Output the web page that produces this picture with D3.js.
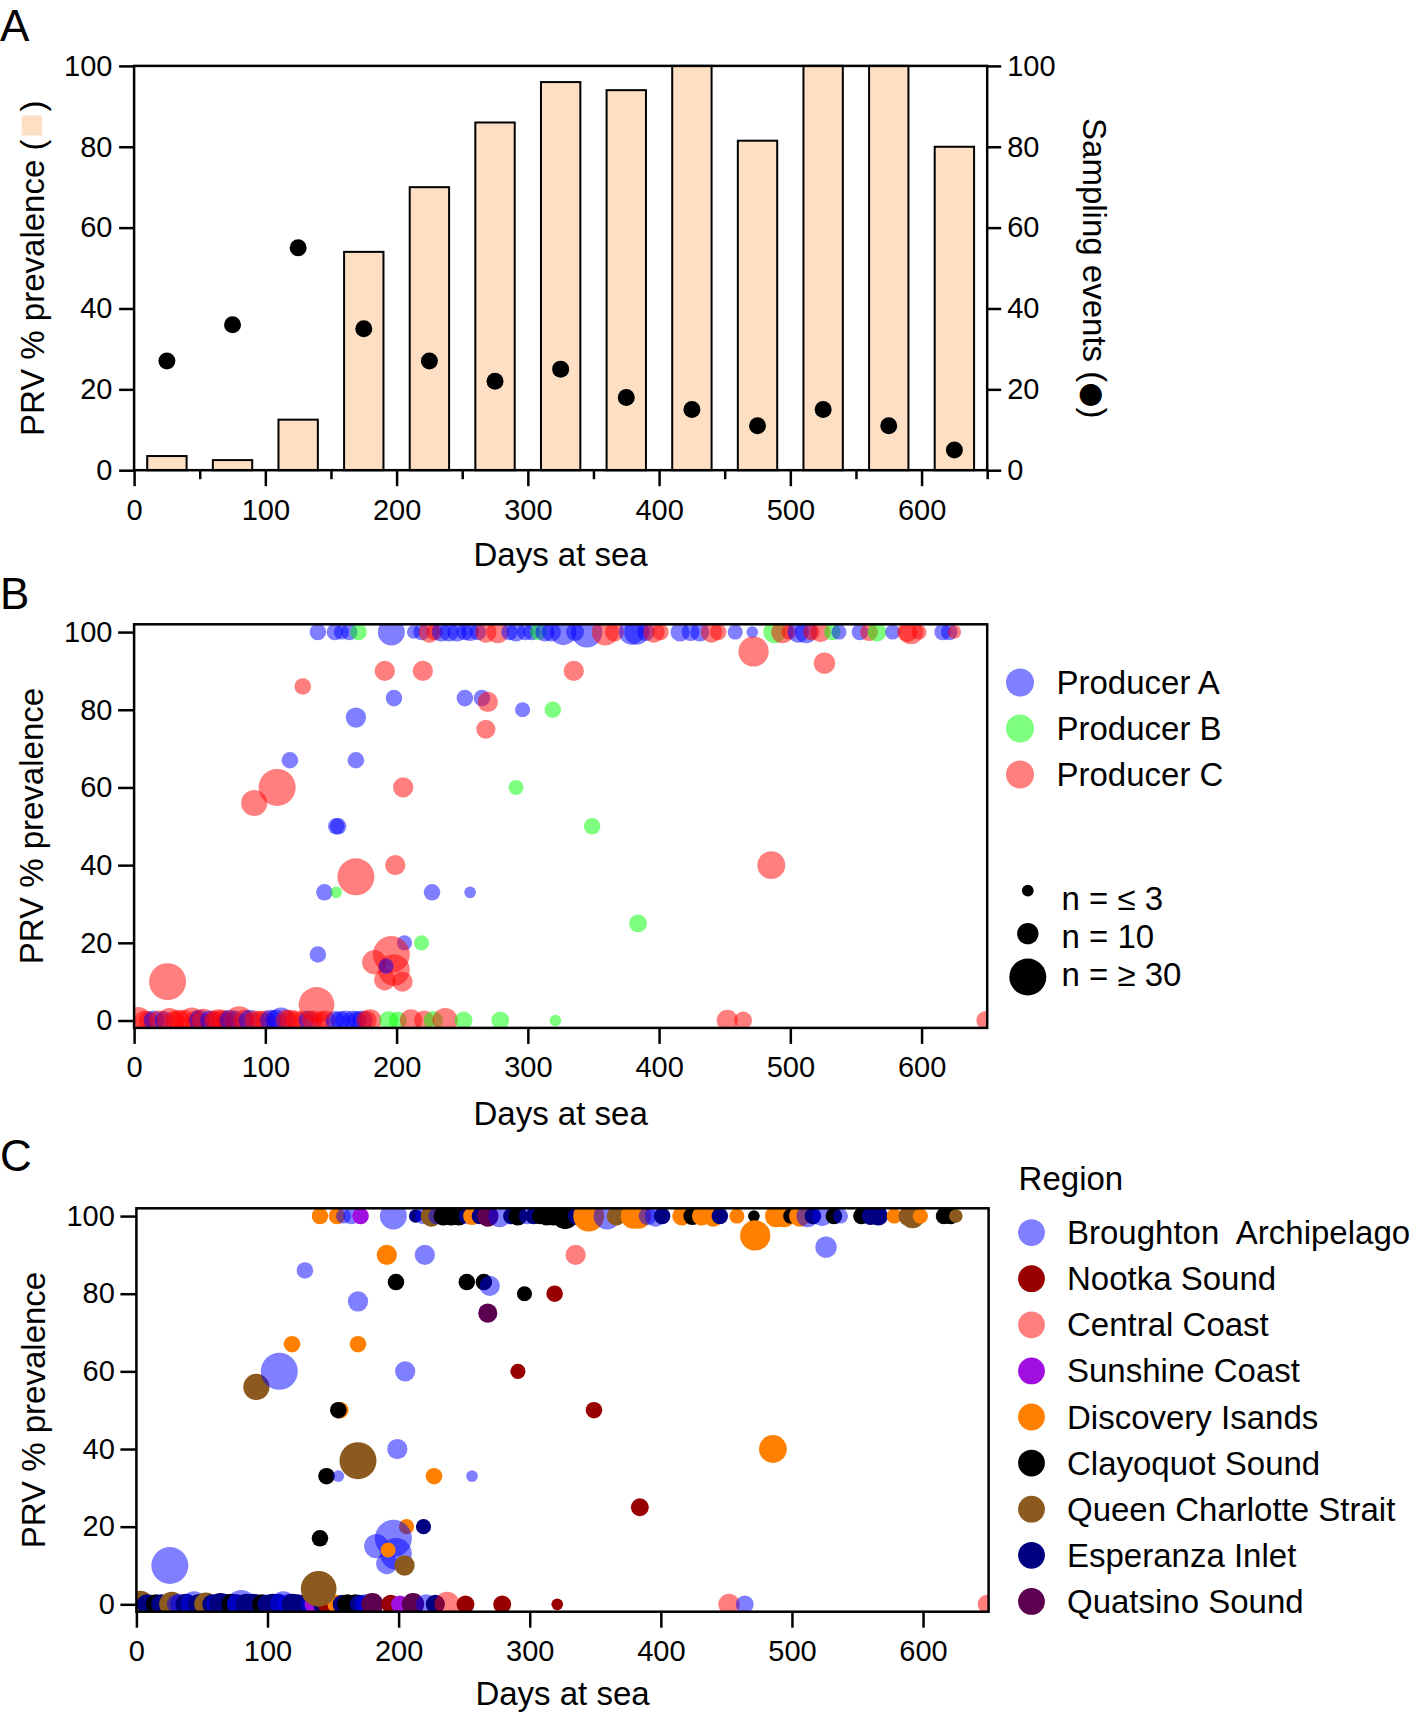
<!DOCTYPE html>
<html><head><meta charset="utf-8">
<script src="https://cdn.jsdelivr.net/npm/d3@7"></script>
<style>
body{margin:0;background:#fff;}
svg text{font-family:"Liberation Sans",Arial,Helvetica,sans-serif;fill:#000;}
</style></head><body>
<svg id="chart" width="1424" height="1716"></svg>
<script>
// ---------------- DATA ----------------
// Panel A: bins of days at sea (bin centres), PRV prevalence (%) and sampling events
const binCentres = [25, 75, 125, 175, 225, 275, 325, 375, 425, 475, 525, 575, 625];
const prevalenceBars = [3.5, 2.5, 12.5, 54, 70, 86, 96, 94, 100, 81.5, 100, 100, 80];
const samplingEvents = [27, 36, 55, 35, 27, 22, 25, 18, 15, 11, 15, 11, 5];
const yTicksA = [0, 20, 40, 60, 80, 100];
const xTicksMajor = [0, 100, 200, 300, 400, 500, 600];
const xTicksMinor = [50, 150, 250, 350, 450, 550, 650];

// Panels B & C: sampling events [day, n, producer, region]
const producers = ["A", "B", "C"];
const producerLabels = ["Producer A", "Producer B", "Producer C"];
const regions = ["BA", "NS", "CC", "SC", "DI", "CS", "QCS", "EI", "QS"];
const regionLabels = ["Broughton  Archipelago", "Nootka Sound", "Central Coast", "Sunshine Coast",
  "Discovery Isands", "Clayoquot Sound", "Queen Charlotte Strait", "Esperanza Inlet", "Quatsino Sound"];
const sizeLegendN = [3, 10, 30];
const sizeLegendLabels = ["n = \u2264 3", "n = 10", "n = \u2265 30"];

// events with 0 % prevalence
const zeroEvents = [
  [3,16,"C","QCS"],[8,9,"C","EI"],[11,8,"C","EI"],[15,9,"A","CS"],[19,9,"C","EI"],[23,8,"A","EI"],
  [27,14,"C","QCS"],[31,9,"C","BA"],[34,10,"C","BA"],[38,10,"C","EI"],[44,15,"C","BA"],[47,9,"C","EI"],
  [50,10,"A","EI"],[53,12,"C","QCS"],[58,9,"A","EI"],[61,9,"C","BA"],[64,11,"C","EI"],[67,10,"C","EI"],
  [70,9,"C","EI"],[73,10,"A","CS"],[77,9,"A","EI"],[80,18,"C","BA"],[84,10,"C","EI"],[88,10,"A","EI"],
  [92,9,"C","EI"],[96,9,"C","CS"],[100,9,"C","BA"],[104,10,"A","EI"],[108,10,"A","EI"],[112,15,"A","BA"],
  [116,10,"C","BA"],[119,10,"C","EI"],[123,9,"C","EI"],[129,9,"C","EI"],[133,9,"A","BA"],[136,9,"C","SC"],
  [142,8,"C","EI"],[146,9,"C","NS"],[153,8,"A","DI"],[157,8,"A","EI"],[161,9,"A","CS"],[167,9,"A","CS"],
  [170,8,"A","EI"],[174,9,"A","BA"],[177,9,"C","BA"],[180,11,"C","QS"],[194,8,"B","NS"],[201,7,"B","SC"],
  [211,11,"C","QS"],[221,9,"C","BA"],[228,8,"B","EI"],[237,14,"C","CC"],[251,7,"B","NS"],
  [279,7,"B","NS"],[321,3,"B","NS"],[452,10,"C","CC"],[464,7,"C","BA"],[649,8,"C","CC"]
];
// events with 100 % prevalence
const fullEvents = [
  [140,6,"A","DI"],[153,6,"A","DI"],[158,5,"A","BA"],[164,6,"A","BA"],[171,6,"B","SC"],
  [196,16,"A","BA"],[213,4,"A","EI"],[219,6,"A","BA"],[225,10,"C","QCS"],[229,6,"C","BA"],
  [234,8,"A","CS"],[240,8,"A","CS"],[246,8,"A","CS"],[252,6,"A","BA"],[256,7,"A","DI"],
  [262,6,"A","EI"],[268,10,"C","QS"],[277,11,"C","BA"],[286,6,"A","EI"],[291,8,"A","CS"],
  [298,6,"A","BA"],[303,6,"A","EI"],[308,6,"B","CS"],[313,8,"A","CS"],[318,8,"A","CS"],
  [327,15,"A","CS"],[336,7,"A","EI"],[345,21,"A","DI"],[359,16,"C","BA"],[366,8,"C","QCS"],
  [379,14,"A","DI"],[383,14,"A","DI"],[390,7,"A","BA"],[396,10,"C","BA"],[401,6,"C","EI"],
  [416,8,"A","DI"],[424,7,"A","CS"],[431,8,"A","DI"],[440,10,"C","DI"],[445,6,"C","EI"],
  [458,5,"A","DI"],[471,3,"A","CS"],[488,11,"B","DI"],[494,11,"C","DI"],[499,5,"C","CS"],
  [506,10,"A","DI"],[512,11,"A","BA"],[516,6,"C","EI"],[523,9,"C","BA"],[532,6,"B","CS"],
  [537,5,"A","BA"],[553,6,"A","CS"],[560,7,"C","EI"],[566,8,"B","EI"],[578,5,"A","DI"],
  [589,9,"C","QCS"],[592,13,"C","QCS"],[598,5,"C","DI"],[616,6,"A","CS"],[621,6,"A","CS"],
  [625,4,"C","QCS"]
];
// events with intermediate prevalence [day, prevalence, n, producer, region]
const midEvents = [
  [25.5,10,30,"C","BA"],[139,4,28,"C","QCS"],[91.5,56,15,"C","QCS"],[109,60,30,"C","BA"],
  [128.5,86,6,"C","BA"],[118.7,67,6,"A","DI"],[169,78,9,"A","BA"],[169,67,6,"A","DI"],
  [155.5,50,6,"A","DI"],[154,50,6,"A","CS"],[191,90,9,"C","DI"],[220,90,9,"C","BA"],
  [198,83,6,"A","CS"],[205,60,9,"C","BA"],[199,40,9,"C","BA"],[169,37,30,"C","QCS"],
  [145,33,6,"A","CS"],[154,33,3,"B","BA"],[227,33,6,"A","DI"],[256,33,3,"A","BA"],
  [140,17,6,"A","CS"],[206,20,5,"A","DI"],[219,20,5,"B","EI"],[196,17,30,"C","BA"],
  [183,15,13,"C","BA"],[191,10.5,10,"C","BA"],[198,13,22,"C","BA"],[204.5,10,9,"C","QCS"],
  [192,14,5,"A","DI"],[252,83,6,"A","CS"],[265,83,6,"A","CS"],[269.5,82,9,"C","BA"],
  [268,75,8,"C","QS"],[296,80,5,"A","CS"],[319,80,6,"B","NS"],[335,90,9,"C","CC"],
  [291,60,5,"B","NS"],[349,50,6,"B","NS"],[384,25,7,"B","NS"],[472,95,20,"C","DI"],
  [526,92,10,"C","BA"],[485.5,40,17,"C","DI"]
];

// ---------------- STYLE ----------------
const FONT = '"Liberation Sans",Arial,Helvetica,sans-serif';
const TICK_FS = 29, TITLE_FS = 33, PANEL_FS = 44;
const BAR_FILL = "#FDE0C3";
const producerColor = {A: "#0000FF", B: "#00FF00", C: "#FF0000"};
const regionColor = {BA: "#0000FF", NS: "#990000", CC: "#FF0000", SC: "#A00FE0", DI: "#FF8000",
  CS: "#000000", QCS: "#8C5A1E", EI: "#000080", QS: "#5C0050"};
const regionOpacity = {BA: 0.5, NS: 1, CC: 0.5, SC: 1, DI: 1, CS: 1, QCS: 1, EI: 1, QS: 1};

const svg = d3.select("#chart");
const rScale = d3.scaleSqrt().domain([0, 30]).range([0, 18.5]).clamp(true);

const events = [
  ...zeroEvents.map(([d, n, p, r]) => ({day: d, prev: 0, n, p, r})),
  ...fullEvents.map(([d, n, p, r]) => ({day: d, prev: 100, n, p, r})),
  ...midEvents.map(([d, v, n, p, r]) => ({day: d, prev: v, n, p, r}))
];

function styleAxis(g, fs) {
  g.select(".domain").remove();
  g.selectAll(".tick line").attr("stroke", "#000").attr("stroke-width", 2.5);
  g.selectAll(".tick text").attr("font-size", fs).attr("font-family", FONT).attr("fill", "#000");
}

function frame(x0, y0, x1, y1) {
  svg.append("rect").attr("x", x0).attr("y", y0).attr("width", x1 - x0).attr("height", y1 - y0)
    .attr("fill", "none").attr("stroke", "#000").attr("stroke-width", 2.5);
}

function panelLabel(txt, x, y) {
  svg.append("text").attr("x", x).attr("y", y).attr("font-size", PANEL_FS).text(txt);
}

// ---------------- PANEL A ----------------
const xA = d3.scaleLinear().domain([0, 650]).range([134.1, 987.2]);
const yA = d3.scaleLinear().domain([0, 100]).range([470.2, 65.9]);
const yA2 = d3.scaleLinear().domain([0, 100]).range([470.2, 65.9]);
const halfBin = 15;

svg.append("g").selectAll("rect").data(binCentres).join("rect")
  .attr("x", d => xA(d - halfBin))
  .attr("width", d => xA(d + halfBin) - xA(d - halfBin))
  .attr("y", (d, i) => yA(prevalenceBars[i]))
  .attr("height", (d, i) => yA(0) - yA(prevalenceBars[i]))
  .attr("fill", BAR_FILL).attr("stroke", "#000").attr("stroke-width", 2);

svg.append("g").selectAll("circle").data(binCentres).join("circle")
  .attr("cx", d => xA(d)).attr("cy", (d, i) => yA2(samplingEvents[i])).attr("r", 8.5).attr("fill", "#000");

frame(134.1, 65.9, 987.2, 470.2);

styleAxis(svg.append("g").attr("transform", "translate(0,470.2)")
  .call(d3.axisBottom(xA).tickValues(xTicksMajor).tickSize(16).tickPadding(13).tickSizeOuter(0)), TICK_FS);
styleAxis(svg.append("g").attr("transform", "translate(0,470.2)")
  .call(d3.axisBottom(xA).tickValues(xTicksMinor).tickSize(9).tickFormat("").tickSizeOuter(0)), TICK_FS);
styleAxis(svg.append("g").attr("transform", "translate(134.1,0)")
  .call(d3.axisLeft(yA).tickValues(yTicksA).tickSize(15).tickPadding(6.6).tickSizeOuter(0)), TICK_FS);
styleAxis(svg.append("g").attr("transform", "translate(987.2,0)")
  .call(d3.axisRight(yA2).tickValues(yTicksA).tickSize(14).tickPadding(6).tickSizeOuter(0)), TICK_FS);

svg.append("text").attr("x", 560.6).attr("y", 566).attr("text-anchor", "middle")
  .attr("font-size", TITLE_FS).text("Days at sea");

// left title with peach square
{
  const g = svg.append("g").attr("transform", "translate(43.6,268.3) rotate(-90)");
  const t1 = g.append("text").attr("font-size", TITLE_FS).text("PRV % prevalence (");
  const t2 = g.append("text").attr("font-size", TITLE_FS).text(")");
  const w1 = t1.node().getComputedTextLength();
  const w2 = t2.node().getComputedTextLength();
  const gap = 4, sq = 20;
  const total = w1 + gap + sq + gap + w2;
  const x0 = -total / 2;
  t1.attr("x", x0);
  g.append("rect").attr("x", x0 + w1 + gap).attr("y", -22).attr("width", sq).attr("height", 20.5)
    .attr("fill", BAR_FILL);
  t2.attr("x", x0 + w1 + gap + sq + gap);
}
{
  const t = svg.append("text").attr("transform", "translate(1083,268.3) rotate(90)")
    .attr("text-anchor", "middle").attr("font-size", TITLE_FS);
  t.append("tspan").text("Sampling events (");
  t.append("tspan").attr("font-family", '"DejaVu Sans",sans-serif').attr("font-size", 29).text("\u25CF");
  t.append("tspan").text(")");
}

panelLabel("A", 0, 40.7);

// ---------------- PANELS B & C ----------------
function scatterPanel(opts) {
  const {x0, x1, y0, y1, id, colorOf, opacityOf, labelY, tickLabelX} = opts;
  const x = d3.scaleLinear().domain([0, 650]).range([x0, x1]);
  const y = d3.scaleLinear().domain([-1.9, 102]).range([y1, y0]);
  svg.append("clipPath").attr("id", id).append("rect")
    .attr("x", x0).attr("y", y0).attr("width", x1 - x0).attr("height", y1 - y0);
  svg.append("g").attr("clip-path", `url(#${id})`).selectAll("circle").data(events).join("circle")
    .attr("cx", d => x(d.day)).attr("cy", d => y(d.prev)).attr("r", d => rScale(Math.max(3, d.n)))
    .attr("fill", colorOf).attr("fill-opacity", opacityOf);
  frame(x0, y0, x1, y1);
  styleAxis(svg.append("g").attr("transform", `translate(0,${y1})`)
    .call(d3.axisBottom(x).tickValues(xTicksMajor).tickSize(16).tickPadding(13).tickSizeOuter(0)), TICK_FS);
  styleAxis(svg.append("g").attr("transform", `translate(${x0},0)`)
    .call(d3.axisLeft(y).tickValues(yTicksA).tickSize(16).tickPadding(x0 - 16 - tickLabelX).tickSizeOuter(0)), TICK_FS);
  svg.append("text").attr("x", (x0 + x1) / 2).attr("y", labelY).attr("text-anchor", "middle")
    .attr("font-size", TITLE_FS).text("Days at sea");
  svg.append("text").attr("transform", `translate(${x0 - 91},${(y0 + y1) / 2}) rotate(-90)`)
    .attr("text-anchor", "middle").attr("font-size", TITLE_FS).text("PRV % prevalence");
  return {x, y};
}

// Panel B
scatterPanel({x0: 134.1, x1: 987.2, y0: 624.3, y1: 1027.9, id: "clipB",
  colorOf: d => producerColor[d.p], opacityOf: 0.5, labelY: 1124.6, tickLabelX: 112.5});
panelLabel("B", 0, 609);

const legB = svg.append("g");
legB.selectAll("circle").data(producers).join("circle")
  .attr("cx", 1020).attr("cy", (d, i) => 682.5 + i * 46).attr("r", 14)
  .attr("fill", d => producerColor[d]).attr("fill-opacity", 0.5);
legB.selectAll("text").data(producerLabels).join("text")
  .attr("x", 1056.5).attr("y", (d, i) => 682.5 + i * 46).attr("dy", "0.35em")
  .attr("font-size", TITLE_FS).text(d => d);

const legS = svg.append("g");
const sizeY = [890.7, 933.6, 977];
const sizeTextY = [898, 936, 974];
legS.selectAll("circle").data(sizeLegendN).join("circle")
  .attr("cx", 1027.8).attr("cy", (d, i) => sizeY[i]).attr("r", d => rScale(d)).attr("fill", "#000");
legS.selectAll("text").data(sizeLegendLabels).join("text")
  .attr("x", 1061.5).attr("y", (d, i) => sizeTextY[i]).attr("dy", "0.35em")
  .attr("font-size", TITLE_FS).text(d => d);

// Panel C
scatterPanel({x0: 136.4, x1: 988.6, y0: 1208.3, y1: 1611.7, id: "clipC",
  colorOf: d => regionColor[d.r], opacityOf: d => regionOpacity[d.r], labelY: 1705, tickLabelX: 114.8});
panelLabel("C", 0, 1171);

svg.append("text").attr("x", 1018.6).attr("y", 1190).attr("font-size", TITLE_FS).text("Region");
const legC = svg.append("g");
legC.selectAll("circle").data(regions).join("circle")
  .attr("cx", 1031.5).attr("cy", (d, i) => 1232.6 + i * 46.1).attr("r", 13.4)
  .attr("fill", d => regionColor[d]).attr("fill-opacity", d => regionOpacity[d]);
legC.selectAll("text").data(regionLabels).join("text")
  .attr("x", 1067).attr("y", (d, i) => 1232.6 + i * 46.1).attr("dy", "0.35em")
  .attr("font-size", TITLE_FS).style("white-space", "pre").text(d => d);
</script>
</body></html>
